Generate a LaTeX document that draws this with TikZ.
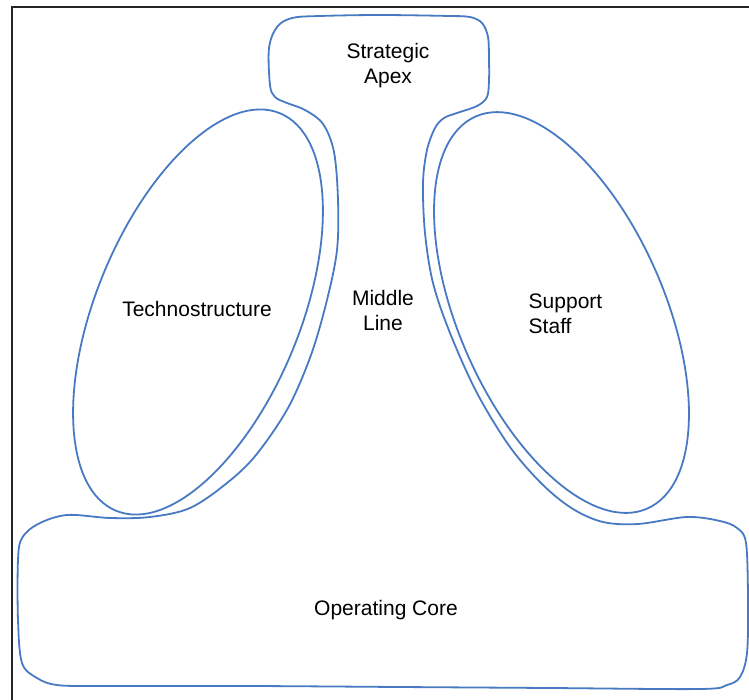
\documentclass[tikz,border=0pt]{standalone}
\usepackage{fontspec}
\setmainfont{Liberation Sans}
\usetikzlibrary{calc}
\definecolor{lineblue}{RGB}{72,122,195}
\tikzset{
  outline/.style={draw=lineblue, line width=1.8pt, line join=round},
  label/.style={font=\fontsize{21}{25}\selectfont, text=black, align=center, inner sep=0pt},
  frame/.style={draw=black!85, line width=2pt}
}
\begin{document}
\begin{tikzpicture}[x=1pt,y=-1pt]
\useasboundingbox (0,0) rectangle (749,700);
% frame (top and left edges)
\coordinate (fbl) at (12,700);
\coordinate (ftl) at (12,7);
\coordinate (ftr) at (749,7);
\draw[frame] (fbl) -- (ftl) -- (ftr);

% outer outline: strategic apex + middle line + operating core
\draw[outline] plot[smooth cycle, tension=0.55] coordinates {
 (269,48) (277,27) (292,18) (320,16) (380,15) (450,16) (470,17) (482,23) (488,37)
 (489,60) (489,80) (487,97) (477,106) (457,113) (444,118) (435,128) (427,150)
 (423,183) (425,233) (433,283) (450,333) (477,393) (510,447) (543,485)
 (573,509) (603,522) (638,524) (687,517) (720,521) (737,528) (746,543)
 (748,600) (747,653) (740,677) (727,685) (700,689) (550,688) (400,687)
 (250,686) (100,686) (57,685) (37,678) (22,663) (18,620) (18,560)
 (22,538) (38,524) (67,515) (110,518) (150,517) (190,508) (227,483) (256,455)
 (288,408) (311,355) (327,300) (337,250) (338,200) (334,152) (323,124)
 (305,110) (287,103) (275,97) (270,85)
};

% Technostructure ellipse
\coordinate (tc) at (198,312);
\draw[outline, rotate around={67.6:(tc)}] (tc) ellipse [x radius=215, y radius=102];
% Support staff ellipse
\coordinate (sc) at (561.5,312.5);
\draw[outline, rotate around={113.6:(sc)}] (sc) ellipse [x radius=214, y radius=103];

% labels
\node[label] (apex) at (388,66) {Strategic\\Apex};
\node[label] (middle) at (383,310) {Middle\\Line};
\node[label] (techno) at (197,309) {Technostructure};
\node[label, align=left] (support) at (565.5,314) {Support\\Staff};
\node[label] (core) at (386,610) {Operating Core};
\end{tikzpicture}
\end{document}
